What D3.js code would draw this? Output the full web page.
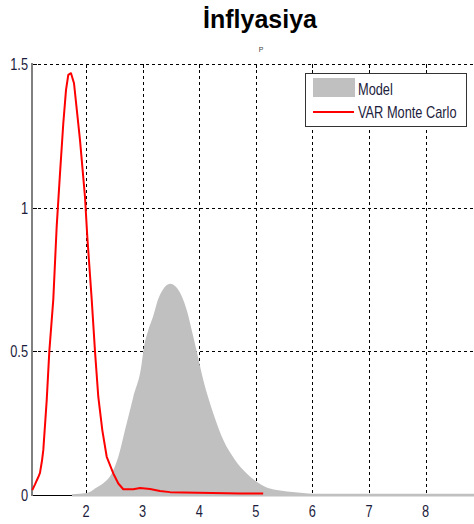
<!DOCTYPE html>
<html><head><meta charset="utf-8">
<script src="https://cdn.jsdelivr.net/npm/d3@7"></script>
<style>body{margin:0;background:#fff}svg{display:block}</style>
</head><body>
<script>
const title = "İnflyasiya";
const xTicks = [2,3,4,5,6,7,8];
const yTicks = [0,0.5,1,1.5];
const yTickLabels = ["0","0.5","1","1.5"];
const seriesNames = ["Model","VAR Monte Carlo"];

const varX = [1.051,1.099,1.117,1.152,1.187,1.223,1.246,1.306,1.352,1.422,1.482,1.541,1.599,1.647,1.687,1.735,1.788,1.894,1.982,2.023,2.101,2.159,2.217,2.288,2.366,2.482,2.571,2.659,2.836,2.954,3.131,3.307,3.484,4.72,5.13];
const varY = [0.017,0.037,0.045,0.06,0.077,0.12,0.157,0.33,0.5,0.68,0.934,1.12,1.294,1.41,1.462,1.468,1.433,1.235,1.038,0.899,0.68,0.5,0.342,0.226,0.133,0.075,0.04,0.02,0.02,0.024,0.021,0.014,0.01,0.005,0.005];

const modelX = [1.753,2.018,2.071,2.159,2.306,2.454,2.571,2.689,2.836,2.984,3.012,3.101,3.184,3.272,3.36,3.484,3.608,3.784,3.867,3.956,4.072,4.249,4.426,4.633,4.839,5.016,5.163,5.369,5.551,5.834,6.011,7.0,8.0,8.9];
const modelY = [0.003,0.007,0.011,0.023,0.041,0.075,0.133,0.226,0.342,0.458,0.5,0.574,0.62,0.68,0.715,0.735,0.72,0.64,0.574,0.5,0.40,0.284,0.191,0.122,0.075,0.046,0.029,0.017,0.012,0.007,0.004,0.004,0.004,0.004];

const W = 474, H = 524;
const svg = d3.select("body").append("svg").attr("width", W).attr("height", H);
const x = d3.scaleLinear().domain([1.046, 8.89]).range([32, 476]);
const y = d3.scaleLinear().domain([0, 1.5]).range([495, 64]);
const lblFont = "'Liberation Sans',Arial,sans-serif";
const lblColor = "#1c1c3c";
const SX = 0.8;

function narrowText(sel, tx, ty, anchor) {
  return sel.attr("transform", (d,i)=>`translate(${tx(d,i)},${ty(d,i)}) scale(${SX},1)`)
    .attr("text-anchor", anchor)
    .attr("font-family", lblFont).attr("font-size",16).attr("fill",lblColor);
}

// title
svg.append("text").attr("x", 260).attr("y", 28).attr("text-anchor","middle")
  .attr("font-family","'Liberation Sans',Arial,sans-serif").attr("font-weight","bold")
  .attr("font-size",25).attr("fill","#000").text(title);
svg.append("text").attr("x", 261).attr("y", 52).attr("text-anchor","middle")
  .attr("font-family","'Liberation Sans',Arial,sans-serif").attr("font-size",7).attr("fill","#444").text("P");

// grid
const g = svg.append("g");
g.selectAll(".vg").data(xTicks).join("line")
  .attr("x1", d=>Math.round(x(d))+0.5).attr("x2", d=>Math.round(x(d))+0.5)
  .attr("y1", y(1.5)).attr("y2", y(0))
  .attr("stroke","#000").attr("stroke-width",1).attr("stroke-dasharray","3,3");
g.selectAll(".hg").data(yTicks.filter(d=>d>0)).join("line")
  .attr("x1", 32).attr("x2", 476)
  .attr("y1", d=>Math.round(y(d))+0.5).attr("y2", d=>Math.round(y(d))+0.5)
  .attr("stroke","#000").attr("stroke-width",1).attr("stroke-dasharray","3,3");

// top ticks
g.selectAll(".tt").data(xTicks).join("line")
  .attr("x1", d=>Math.round(x(d))+0.5).attr("x2", d=>Math.round(x(d))+0.5)
  .attr("y1", y(1.5)).attr("y2", y(1.5)+4).attr("stroke","#000");
// left ticks
g.selectAll(".lt").data(yTicks).join("line")
  .attr("x1", 32).attr("x2", 37)
  .attr("y1", d=>Math.round(y(d))+0.5).attr("y2", d=>Math.round(y(d))+0.5).attr("stroke","#000");

// bottom axis line
svg.append("line").attr("x1",32).attr("x2",476).attr("y1",495.5).attr("y2",495.5).attr("stroke","#000");

// model area
const modelData = modelX.map((v,i)=>[v, modelY[i]]);
svg.append("path").datum(modelData)
  .attr("d", d3.area().x(d=>x(d[0])).y0(y(0)+1.5).y1(d=>y(d[1])).curve(d3.curveMonotoneX))
  .attr("fill","#c0c0c0");

// left axis line
svg.append("line").attr("x1",32).attr("x2",32).attr("y1",63).attr("y2",496).attr("stroke","#808080").attr("stroke-width",2);

// VAR line
const varData = varX.map((v,i)=>[v, varY[i]]);
svg.append("path").datum(varData)
  .attr("d", d3.line().x(d=>x(d[0])).y(d=>y(d[1])))
  .attr("fill","none").attr("stroke","#ff0000").attr("stroke-width",2).attr("stroke-linejoin","round");

// tick labels
narrowText(svg.selectAll(".yl").data(yTicks).join("text"), ()=>28, d=>y(d)+6, "end")
  .text((d,i)=>yTickLabels[i]);
narrowText(svg.selectAll(".xl").data(xTicks).join("text"), d=>x(d), ()=>517, "middle")
  .text(d=>d);

// legend
const lg = svg.append("g");
lg.append("rect").attr("x",305.5).attr("y",73.5).attr("width",161).attr("height",53)
  .attr("fill","#fff").attr("stroke","#333").attr("stroke-width",1);
lg.append("rect").attr("x",313).attr("y",78).attr("width",42).attr("height",19).attr("fill","#c0c0c0");
lg.append("line").attr("x1",313).attr("x2",354).attr("y1",112).attr("y2",112).attr("stroke","#ff0000").attr("stroke-width",2);
narrowText(lg.selectAll(".lt2").data(seriesNames).join("text"), ()=>358, (d,i)=>i===0?95:118, "start")
  .text(d=>d);
</script>
</body></html>
